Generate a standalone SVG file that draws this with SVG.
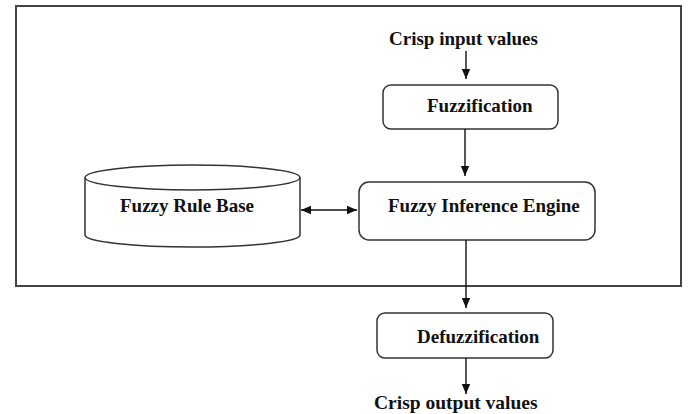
<svg xmlns="http://www.w3.org/2000/svg" width="688" height="414" viewBox="0 0 688 414">
<style>
.t{font-family:"Liberation Serif","Times New Roman",serif;font-weight:bold;font-size:19px;fill:#111}
.box{fill:#fff;stroke:#333;stroke-width:1.5}
.ln{stroke:#111;stroke-width:1.4;fill:none}
</style>
<defs>
<marker id="ah" markerUnits="userSpaceOnUse" markerWidth="10" markerHeight="10" refX="10" refY="5" orient="auto-start-reverse" viewBox="0 0 10 10">
<path d="M0,0.8 L10,5 L0,9.2 Z" fill="#111"/>
</marker>
</defs>
<rect width="688" height="414" fill="#fff"/>
<g id="frame">
<rect x="16" y="6" width="665" height="280" fill="none" stroke="#444" stroke-width="2"/>
</g>
<g id="crisp-input"><text class="t" x="389" y="45">Crisp input values</text></g>
<g id="fuzzification">
<rect class="box" x="383" y="85" width="175" height="44" rx="8"/>
<text class="t" x="427" y="112">Fuzzification</text>
</g>
<g id="rule-base">
<path class="box" d="M85,177.5 L85,235 A107.5,12 0 0 0 300,235 L300,177.5"/>
<ellipse class="box" cx="192.5" cy="177.5" rx="107.5" ry="12.5"/>
<text class="t" x="120" y="212">Fuzzy Rule Base</text>
</g>
<g id="inference-engine">
<rect class="box" x="359" y="182" width="236" height="58" rx="10"/>
<text class="t" x="388" y="212">Fuzzy Inference Engine</text>
</g>
<g id="defuzzification">
<rect class="box" x="377" y="313" width="176" height="45" rx="8"/>
<text class="t" x="417" y="343">Defuzzification</text>
</g>
<g id="crisp-output"><text class="t" x="374" y="409" style="font-size:19.5px">Crisp output values</text></g>
<g id="connectors">
<line class="ln" x1="466" y1="51" x2="466" y2="79" marker-end="url(#ah)"/>
<line class="ln" x1="465" y1="129" x2="465" y2="176" marker-end="url(#ah)"/>
<line class="ln" x1="301" y1="210" x2="357" y2="210" marker-start="url(#ah)" marker-end="url(#ah)"/>
<line class="ln" x1="466" y1="240" x2="466" y2="308" marker-end="url(#ah)"/>
<line class="ln" x1="466" y1="358" x2="466" y2="394" marker-end="url(#ah)"/>
</g>
</svg>
